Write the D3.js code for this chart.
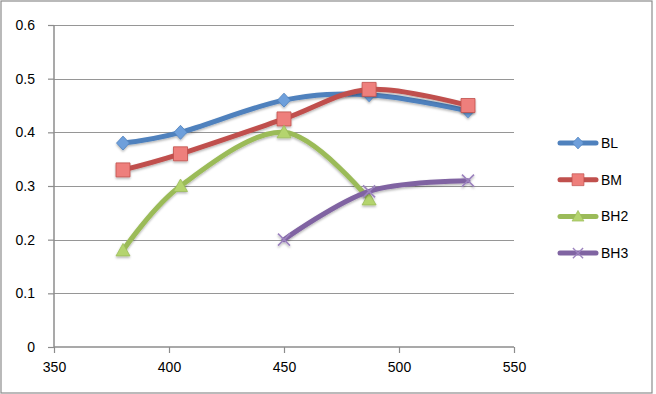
<!DOCTYPE html>
<html>
<head>
<meta charset="utf-8">
<script src="https://cdn.jsdelivr.net/npm/d3@7"></script>
<style>
  body { margin: 0; background: #fff; }
  svg { display: block; font-family: "Liberation Sans", Arial, sans-serif; }
</style>
</head>
<body>
<div id="chart"></div>
<script>
// values
var seriesNames = ['BL', 'BM', 'BH2', 'BH3'];
var BL  = [[380, 0.38], [405, 0.40], [450, 0.46], [487, 0.47], [530, 0.44]];
var BM  = [[380, 0.33], [405, 0.36], [450, 0.425], [487, 0.48], [530, 0.45]];
var BH2 = [[380, 0.18], [405, 0.30], [450, 0.40], [487, 0.275]];
var BH3 = [[450, 0.20], [487, 0.29], [530, 0.31]];
var xTicks = [350, 400, 450, 500, 550];
var yTicks = [0, 0.1, 0.2, 0.3, 0.4, 0.5, 0.6];

var colors = ['#4F81BD', '#C0504D', '#9BBB59', '#8064A2'];
var fills  = ['#6E9FDB', '#EE7F7B', '#B4D46E', '#9C83BE'];

var W = 656, H = 394;
var margin = {top: 25, right: 142, bottom: 47, left: 54};

var svg = d3.select('#chart').append('svg')
    .attr('width', W)
    .attr('height', H);

var defs = svg.append('defs');
var shadow = defs.append('filter').attr('id', 'shadow')
    .attr('x', '-50%').attr('y', '-50%').attr('width', '200%').attr('height', '200%');
shadow.append('feDropShadow')
    .attr('dx', 0).attr('dy', 1.5).attr('stdDeviation', 1.2)
    .attr('flood-color', '#000').attr('flood-opacity', 0.3);

svg.append('rect')
    .attr('x', 1).attr('y', 1)
    .attr('width', 651).attr('height', 392)
    .attr('fill', '#fff')
    .attr('stroke', '#8c8c8c')
    .attr('stroke-width', 1.2);

var width = W - margin.left - margin.right,
    height = H - margin.top - margin.bottom;

var x = d3.scaleLinear().domain([350, 550]).range([0, width]);
var y = d3.scaleLinear().domain([0, 0.6]).range([height, 0]);

var graph = svg.append('g')
    .attr('transform', 'translate(' + margin.left + ',' + margin.top + ')');

// gridlines
graph.append('g')
    .selectAll('line')
    .data(yTicks.slice(1))
    .enter().append('line')
    .attr('x1', 0).attr('x2', width)
    .attr('y1', d => Math.round(y(d)) + 0.5)
    .attr('y2', d => Math.round(y(d)) + 0.5)
    .attr('stroke', '#969696')
    .attr('stroke-width', 1);

var yAxis = graph.append('g')
    .call(d3.axisLeft(y).tickValues(yTicks).tickSize(6).tickPadding(13)
        .tickFormat(d3.format('')));
var xAxis = graph.append('g')
    .attr('transform', 'translate(0,' + height + ')')
    .call(d3.axisBottom(x).tickValues(xTicks).tickSize(6).tickPadding(9));

[xAxis, yAxis].forEach(function(a) {
    a.select('.domain').attr('stroke', '#8c8c8c').attr('stroke-width', 1.5);
    a.selectAll('.tick line').attr('stroke', '#8c8c8c').attr('stroke-width', 1.2);
    a.selectAll('.tick text')
        .attr('fill', '#000')
        .style('font-size', '14px');
});
xAxis.select('.domain').attr('d', 'M0,0H' + width);
yAxis.select('.domain').attr('d', 'M0,0V' + height);

var line = d3.line()
    .curve(d3.curveCardinal.tension(0))
    .x(d => x(d[0]))
    .y(d => y(d[1]));

var allSeries = [BL, BM, BH2, BH3];

// marker outlines, Excel style
var markerPaths = [
    'M0,-7L6.5,0L0,7L-6.5,0Z',
    'M-7,-7H7V7H-7Z',
    'M0,-7L7,5.5H-7Z',
    'M-6,-6L6,6M-6,6L6,-6'
];

function drawMarker(sel, i) {
    if (i === 3) {
        sel.append('path')
            .attr('d', markerPaths[i])
            .attr('stroke', fills[i])
            .attr('stroke-width', 1.6)
            .attr('fill', 'none');
    } else {
        sel.append('path')
            .attr('d', markerPaths[i])
            .attr('fill', fills[i])
            .attr('stroke', colors[i])
            .attr('stroke-width', 0.8);
    }
}

allSeries.forEach(function(data, i) {
    var g = graph.append('g').attr('filter', 'url(#shadow)');
    g.append('path')
        .datum(data)
        .attr('fill', 'none')
        .attr('stroke', colors[i])
        .attr('stroke-width', 5)
        .attr('stroke-linecap', 'round')
        .attr('d', line);
    g.selectAll('.pt')
        .data(data)
        .enter().append('g')
        .attr('class', 'pt')
        .attr('transform', d => 'translate(' + x(d[0]) + ',' + y(d[1]) + ')')
        .each(function() { drawMarker(d3.select(this), i); });
});

// legend
var legend = svg.append('g')
    .attr('transform', 'translate(558,143)');

var item = legend.selectAll('.item')
    .data(seriesNames)
    .enter().append('g')
    .attr('class', 'item')
    .attr('transform', (d, i) => 'translate(0,' + (i * 36.7) + ')');

item.append('line')
    .attr('x1', 2).attr('x2', 38)
    .attr('stroke', (d, i) => colors[i])
    .attr('stroke-width', 5)
    .attr('stroke-linecap', 'round');
item.each(function(d, i) {
    var m = d3.select(this).append('g').attr('transform', 'translate(20,0) scale(0.85)');
    drawMarker(m, i);
});
item.append('text')
    .attr('x', 43)
    .attr('dy', '0.36em')
    .style('font-size', '14px')
    .text(d => d);
</script>
</body>
</html>
